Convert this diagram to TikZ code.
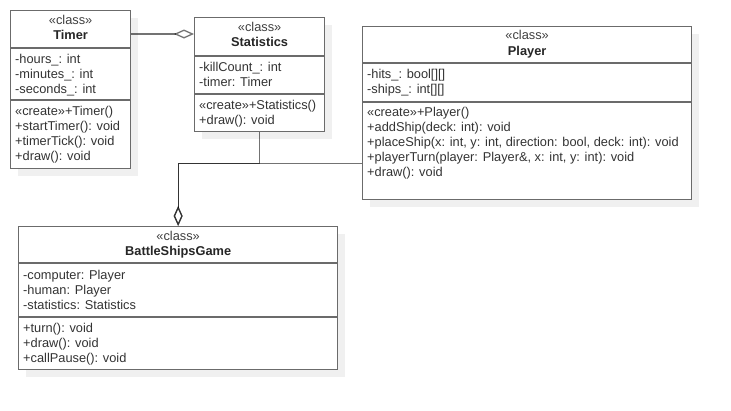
\documentclass[tikz,border=0pt]{standalone}
\usepackage{fontspec}
\setmainfont{Liberation Sans}
\usepackage{tikz}
\usetikzlibrary{arrows.meta, positioning, calc, shadows}
\newcommand{\umlfont}{\fontsize{12.8}{15}\selectfont}

\begin{document}
\begin{tikzpicture}[x=1pt, y=-1pt,
  classbox/.style={draw=black!58, line width=1.3pt, fill=white, anchor=north west, inner sep=0pt,
    drop shadow={shadow xshift=7pt, shadow yshift=-7pt, fill=black!6, opacity=1, draw=none}},
  divider/.style={draw=black!58, line width=1.3pt},
  stereo/.style={anchor=base, inner sep=0pt, font=\umlfont, text=black!75},
  cname/.style={anchor=base, inner sep=0pt, font=\umlfont\bfseries, text=black!85},
  % members are placed by the baseline of their last line
  members/.style={anchor=base west, inner sep=0pt, align=left, font=\umlfont, text=black!80},
  aggr/.style={draw=black, opacity=.55, line width=1.3pt, -{Diamond[open, length=20pt, width=9pt]}}]
\useasboundingbox (0,0) rectangle (731,410);

% Timer
\node[classbox, minimum width=120pt, minimum height=158pt] (timer) at (10,10) {};
\draw[divider] ($(timer.north west)+(0,38)$) -- ($(timer.north east)+(0,38)$);
\draw[divider] ($(timer.north west)+(0,90)$) -- ($(timer.north east)+(0,90)$);
\node[stereo] (timerst) at ($(timer.north)+(0,14.5)$) {«class»};
\node[cname] (timername) at ($(timer.north)+(0,29.5)$) {Timer};
\node[members] (timerattr) at ($(timer.north west)+(5,83.5)$) {-hours\_: int\\-minutes\_: int\\-seconds\_: int};
\node[members] (timerops) at ($(timer.north west)+(5,150)$) {«create»+Timer()\\+startTimer(): void\\+timerTick(): void\\+draw(): void};

% Statistics
\node[classbox, minimum width=130pt, minimum height=114pt] (stats) at (194,17) {};
\draw[divider] ($(stats.north west)+(0,39)$) -- ($(stats.north east)+(0,39)$);
\draw[divider] ($(stats.north west)+(0,77)$) -- ($(stats.north east)+(0,77)$);
\node[stereo] (statsst) at ($(stats.north)+(0,14.5)$) {«class»};
\node[cname] (statsname) at ($(stats.north)+(0,29.5)$) {Statistics};
\node[members] (statsattr) at ($(stats.north west)+(5,69)$) {-killCount\_: int\\-timer: Timer};
\node[members] (statsops) at ($(stats.north west)+(5,107)$) {«create»+Statistics()\\+draw(): void};

% Player
\node[classbox, minimum width=329pt, minimum height=173pt] (player) at (362,26) {};
\draw[divider] ($(player.north west)+(0,37)$) -- ($(player.north east)+(0,37)$);
\draw[divider] ($(player.north west)+(0,76)$) -- ($(player.north east)+(0,76)$);
\node[stereo] (playerst) at ($(player.north)+(0,13.5)$) {«class»};
\node[cname] (playername) at ($(player.north)+(0,29.5)$) {Player};
\node[members] (playerattr) at ($(player.north west)+(5,67)$) {-hits\_: bool[][]\\-ships\_: int[][]};
\node[members] (playerops) at ($(player.north west)+(5,150)$) {«create»+Player()\\+addShip(deck: int): void\\+placeShip(x: int, y: int, direction: bool, deck: int): void\\+playerTurn(player: Player\&, x: int, y: int): void\\+draw(): void};

% BattleShipsGame
\node[classbox, minimum width=319pt, minimum height=143pt] (game) at (18,226) {};
\draw[divider] ($(game.north west)+(0,37)$) -- ($(game.north east)+(0,37)$);
\draw[divider] ($(game.north west)+(0,91)$) -- ($(game.north east)+(0,91)$);
\node[stereo] (gamest) at ($(game.north)+(0,14)$) {«class»};
\node[cname] (gamename) at ($(game.north)+(0,29)$) {BattleShipsGame};
\node[members] (gameattr) at ($(game.north west)+(5,83)$) {-computer: Player\\-human: Player\\-statistics: Statistics};
\node[members] (gameops) at ($(game.north west)+(5,136)$) {+turn(): void\\+draw(): void\\+callPause(): void};

% aggregations
\coordinate (tlink) at ($(timer.north east)+(0,24)$);
\coordinate (bend) at ($(stats.south)+(0,31)$);
\draw[aggr] (tlink) -- (tlink -| stats.west);
\draw[aggr] (stats.south) -- (bend) -| (game.north);
\draw[aggr] (player.west |- bend) -| (game.north);

\end{tikzpicture}
\end{document}
